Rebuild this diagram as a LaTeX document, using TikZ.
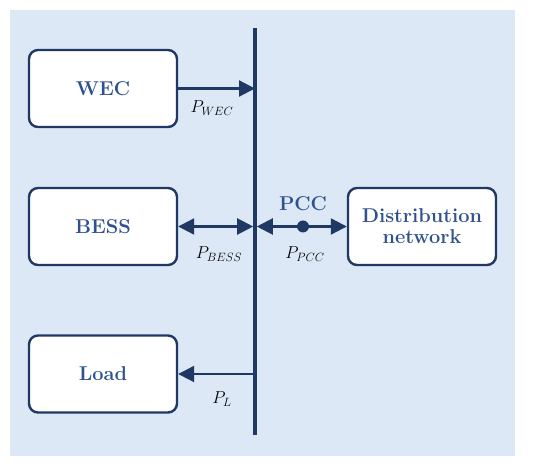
\documentclass[tikz,border=0pt]{standalone}
\usepackage{amsmath}
\usepackage{tikz}
\usetikzlibrary{arrows.meta, calc}

\definecolor{bgblue}{RGB}{220,232,245}
\definecolor{navy}{RGB}{31,56,100}
\definecolor{txtblue}{RGB}{47,82,143}

\tikzset{
  unit/.style={draw=navy, fill=white, line width=2.4pt, rounded corners=9pt,
    minimum width=148pt, minimum height=77pt, align=center,
    font=\fontsize{20}{21}\selectfont\bfseries, text=txtblue},
  flow/.style={draw=navy, line width=2.2pt, -{Triangle[length=16pt,width=16pt]}},
  biflow/.style={draw=navy, line width=2.2pt, {Triangle[length=16pt,width=16pt]}-{Triangle[length=16pt,width=16pt]}},
  plabel/.style={font=\fontsize{17}{18}\selectfont, text=black}
}

\begin{document}
\begin{tikzpicture}[x=1pt, y=-1pt]
		\useasboundingbox (0,0) rectangle (550,465);
		% Background
		\fill[bgblue] (10,10) rectangle (515,456);

		% Bus bar
		\coordinate (bustop) at (255,28);
		\coordinate (busbot) at (255,435);
		\draw[navy, line width=3.6pt] (bustop) -- (busbot);

		% Units
		\node[unit] (wec) at (103,88.5) {WEC};
		\node[unit] (bess) at (103,226.5) {BESS};
		\node[unit] (load) at (103,374) {Load};
		\node[unit] (grid) at (422,226.5) {Distribution\\network};

		% Power flows
		\draw[flow] (wec.east) -- (wec.east -| bustop);
		\draw[biflow] (bess.east) -- ($(bess.east -| bustop)+(-1.8,0)$);
		\draw[flow] (load.east -| bustop) -- (load.east);
		\draw[biflow] ($(grid.west -| bustop)+(1.8,0)$) -- (grid.west);

		% PCC point
		\node[circle, fill=navy, inner sep=0pt, minimum size=12pt] (pcc) at (303,226.5) {};
		\node[font=\fontsize{20}{21}\selectfont\bfseries, text=txtblue, above=12pt] at (pcc) {PCC};

		% Labels
		\node[plabel] at (212,108) {$P_{WEC}$};
		\node[plabel] at (219,254) {$P_{BESS}$};
		\node[plabel] at (305,254) {$P_{PCC}$};
		\node[plabel] at (222,399) {$P_{L}$};
	\end{tikzpicture}
\end{document}
